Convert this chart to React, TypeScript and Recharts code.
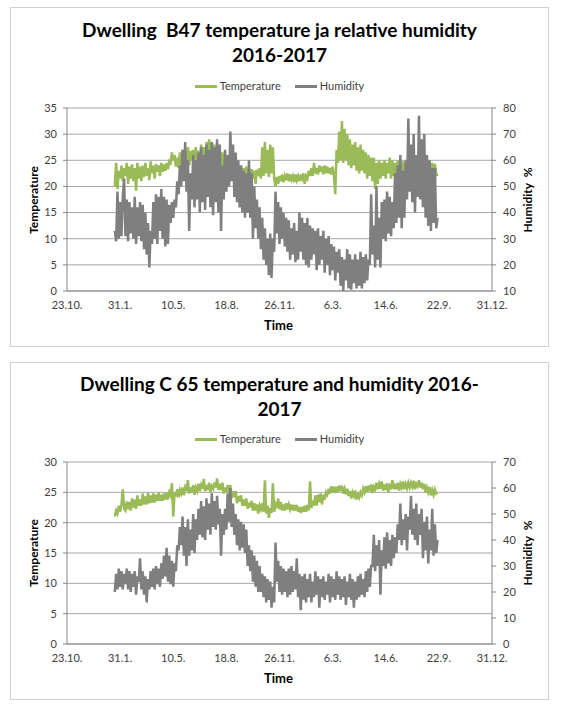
import { LineChart, Line, XAxis, YAxis, CartesianGrid } from "recharts";

// days counted from 23.10.2015, readings every 2.5 days
const days = [
  90, 92.5, 95, 97.5, 100, 102.5, 105, 107.5, 110, 112.5, 115, 117.5, 120, 122.5, 125, 127.5, 130, 132.5, 135, 137.5,
  140, 142.5, 145, 147.5, 150, 152.5, 155, 157.5, 160, 162.5, 165, 167.5, 170, 172.5, 175, 177.5, 180, 182.5, 185, 187.5,
  190, 192.5, 195, 197.5, 200, 202.5, 205, 207.5, 210, 212.5, 215, 217.5, 220, 222.5, 225, 227.5, 230, 232.5, 235, 237.5,
  240, 242.5, 245, 247.5, 250, 252.5, 255, 257.5, 260, 262.5, 265, 267.5, 270, 272.5, 275, 277.5, 280, 282.5, 285, 287.5,
  290, 292.5, 295, 297.5, 300, 302.5, 305, 307.5, 310, 312.5, 315, 317.5, 320, 322.5, 325, 327.5, 330, 332.5, 335, 337.5,
  340, 342.5, 345, 347.5, 350, 352.5, 355, 357.5, 360, 362.5, 365, 367.5, 370, 372.5, 375, 377.5, 380, 382.5, 385, 387.5,
  390, 392.5, 395, 397.5, 400, 402.5, 405, 407.5, 410, 412.5, 415, 417.5, 420, 422.5, 425, 427.5, 430, 432.5, 435, 437.5,
  440, 442.5, 445, 447.5, 450, 452.5, 455, 457.5, 460, 462.5, 465, 467.5, 470, 472.5, 475, 477.5, 480, 482.5, 485, 487.5,
  490, 492.5, 495, 497.5, 500, 502.5, 505, 507.5, 510, 512.5, 515, 517.5, 520, 522.5, 525, 527.5, 530, 532.5, 535, 537.5,
  540, 542.5, 545, 547.5, 550, 552.5, 555, 557.5, 560, 562.5, 565, 567.5, 570, 572.5, 575, 577.5, 580, 582.5, 585, 587.5,
  590, 592.5, 595, 597.5, 600, 602.5, 605, 607.5, 610, 612.5, 615, 617.5, 620, 622.5, 625, 627.5, 630, 632.5, 635, 637.5,
  640, 642.5, 645, 647.5, 650, 652.5, 655, 657.5, 660, 662.5, 665, 667.5, 670, 672.5, 675, 677.5, 680, 682.5, 685, 687.5,
  690, 692.5, 695, 697.5,
];

const dateTicks = [0, 100, 200, 300, 400, 500, 600, 700, 800];
const dateLabels = ["23.10.", "31.1.", "10.5.", "18.8.", "26.11.", "6.3.", "14.6.", "22.9.", "31.12."];

// Dwelling B47
const tempB47 = [
  20, 24.5, 19.5, 23, 21.5, 24, 21, 23.5, 22, 24.5, 20.5, 23.8, 21.5, 24.2, 21, 23.5, 19.2, 24.5, 21.5, 23.8,
  21, 24, 21.8, 24.5, 22, 23.5, 21.2, 24.8, 22.5, 24, 21.5, 24.3, 22.8, 24, 22, 24.5, 22.8, 24.2, 23, 24.5,
  23.3, 24.8, 24.5, 26.5, 25, 26, 23.8, 25.5, 23.5, 26.5, 24, 27, 24.5, 26.5, 25, 27.5, 24, 26.8, 25, 27,
  24.5, 27.5, 25, 26.8, 24, 28, 25.5, 27.5, 24.5, 28.5, 25, 29, 25.5, 28.5, 24.5, 28, 25, 27.5, 23.8, 27,
  24, 26.5, 23.5, 25.5, 22.5, 24.5, 23, 24.8, 22.3, 24, 22.8, 24.2, 22, 23.8, 22.5, 24, 21.8, 23.5, 22.3, 23.8,
  21.8, 23.5, 22, 23.3, 21.5, 23, 20.5, 23.2, 22, 23.5, 21.5, 27.5, 22, 28.5, 22.5, 27, 21.8, 28, 22.5, 27.5,
  21.5, 20, 21.8, 20.5, 22, 21, 22.3, 20.8, 22, 21.2, 22.5, 21, 22.3, 21.3, 22, 20.8, 22.3, 21.2, 22, 21,
  22.3, 21.5, 22.5, 20.5, 22, 21.5, 23, 22, 23.5, 22, 24.5, 22.5, 23.5, 22.3, 24, 22.8, 23.8, 22.3, 24, 22.5,
  23.8, 22.5, 23.5, 22.3, 23.8, 22, 18.5, 27, 24.5, 30.5, 25, 32.5, 24.5, 31, 25, 30, 24, 29, 23.5, 28,
  24, 28.5, 23, 27.5, 22.5, 28, 23, 27, 22.5, 26.5, 21.5, 26, 22, 25.5, 21, 25.5, 19.5, 24.5, 20.5, 25,
  21.5, 24.5, 22, 25, 21.5, 24.5, 22.5, 25.5, 21.5, 25, 22, 24.5, 21.8, 25, 22.5, 24.5, 21.5, 24.8, 22.3, 24,
  22.5, 25, 22, 24.5, 22.8, 25.3, 22.3, 24.5, 22.5, 25, 22, 24.8, 22.8, 25, 22.3, 24.5, 23, 24.8, 22.5, 24.5,
  23, 24.3, 22.5, 22,
];
const humB47 = [
  33, 29, 48, 30, 44, 31, 46, 53, 31, 45, 29, 44, 32, 42, 30, 46, 28, 42, 31, 44,
  29, 43, 26, 40, 24, 36, 19, 33, 28, 44, 30, 47, 28, 46, 33, 49, 30, 46, 27, 45,
  28, 43, 36, 44, 38, 45, 42, 52, 47, 58, 50, 64, 52, 67, 48, 60, 33, 55, 45, 62,
  42, 60, 45, 63, 40, 65, 44, 62, 41, 66, 46, 64, 42, 67, 39, 65, 44, 68, 40, 66,
  33, 58, 45, 64, 48, 62, 50, 71, 52, 66, 46, 63, 44, 60, 42, 58, 40, 56, 38, 55,
  40, 60, 38, 55, 30, 50, 34, 45, 30, 42, 26, 38, 22, 34, 20, 30, 16, 32, 15, 30,
  25, 48, 32, 44, 28, 42, 30, 40, 27, 38, 25, 37, 22, 34, 24, 36, 21, 33, 22, 40,
  25, 38, 22, 36, 20, 38, 19, 35, 22, 34, 24, 33, 18, 34, 20, 31, 22, 33, 17, 30,
  20, 31, 16, 28, 18, 27, 14, 25, 17, 26, 12, 23, 10, 22, 14, 26, 11, 24, 10.5, 22,
  13, 24, 11, 22, 12, 25, 11, 23, 13, 24, 14, 22, 20, 47, 24, 35, 19, 50, 22, 38,
  19, 44, 30, 45, 29, 48, 32, 46, 31, 44, 34, 55, 36, 58, 38, 62, 34, 56, 38, 60,
  45, 76, 48, 66, 44, 70, 40, 62, 46, 77, 45, 68, 42, 70, 38, 62, 35, 60, 33, 57,
  36, 57, 34, 38,
];

// Dwelling C 65
const tempC65 = [
  21, 22, 21.5, 22.8, 21.8, 23, 25.5, 22.3, 22, 23.5, 22.2, 23.4, 22, 24, 22.5, 23.8, 22.3, 24.5, 22.8, 23.8,
  22.8, 24.8, 23, 24.3, 23, 25, 23.2, 24.5, 23.3, 24.8, 23.3, 24.6, 23.6, 25, 23.6, 24.6, 23.6, 24.8, 23.8, 24.9,
  23.8, 25, 24.5, 26.5, 21, 25, 24.3, 25.5, 24.2, 25.4, 24.8, 25.8, 24.5, 25.8, 25.2, 27, 24.8, 25.8, 25, 26.2,
  24.6, 25.8, 25.2, 26.4, 25.2, 26.2, 25.6, 27.2, 25.2, 26.2, 25.4, 26.6, 25, 26, 25.6, 26.6, 25.8, 27.3, 25.4, 26.4,
  25.4, 26.6, 24.8, 25.8, 25, 26.2, 25, 26.2, 24, 25.2, 24.2, 25.2, 23.2, 24.4, 23.5, 24.5, 22.8, 23.8, 22.8, 24,
  22.3, 23.3, 22.5, 23.6, 22, 23.2, 22, 23, 21.5, 22.8, 22.2, 23.2, 21.8, 27, 21.5, 22.8, 20.8, 22.4, 21.6, 26.5,
  21.8, 23, 22.4, 24, 22.2, 23.4, 22, 23, 22, 23.2, 22.2, 23, 22.2, 23, 22, 22.9, 22, 22.9, 21.8, 22.6,
  21.6, 22.6, 21.8, 22.8, 21.8, 22.9, 22, 26.8, 22.4, 23.6, 22.8, 24.5, 22.8, 24.6, 23.4, 24.8, 23, 24.6, 23.8, 25,
  24.6, 25.6, 24.8, 26, 25, 25.9, 24.9, 25.9, 25.1, 26.1, 25.2, 26.1, 24.8, 25.6, 24.7, 25.6, 24.4, 25.2, 24, 25,
  24.4, 25.3, 23.8, 24.9, 24.2, 25, 24.5, 25.6, 25, 26, 25, 26.1, 25.2, 26.3, 24.9, 25.9, 25.5, 26.6, 25.5, 26.4,
  25.6, 26.8, 25.3, 26.3, 25.4, 26.5, 25, 26.1, 25.8, 27, 25.5, 26.4, 25.5, 26.6, 25.3, 26.4, 25.8, 26.8, 25.5, 26.4,
  25.7, 26.6, 25.8, 26.6, 25.9, 26.9, 25.5, 26.4, 26, 27, 25.8, 26.6, 25.5, 26.4, 24.9, 25.8, 25, 25.9, 24.5, 25.4,
  24.6, 25.5, 24.8, 25,
];
const humC65 = [
  20, 27, 21, 29, 22, 28, 21, 27, 23, 29, 21, 28, 20, 27, 22, 28, 19, 26, 24, 33,
  21, 28, 19, 26, 16, 25, 21, 28, 22, 29, 21, 30, 23, 29, 22, 31, 25, 34, 26, 37,
  24, 34, 23, 32, 22, 31, 28, 38, 36, 45, 38, 49, 34, 45, 30, 48, 34, 44, 36, 50,
  35, 48, 40, 52, 42, 55, 41, 53, 40, 56, 44, 54, 42, 58, 45, 55, 44, 57, 46, 52,
  34, 50, 42, 52, 44, 58, 47, 60, 45, 54, 42, 50, 38, 48, 36, 47, 37, 46, 35, 44,
  30, 38, 28, 36, 24, 34, 22, 32, 20, 30, 20, 27, 18, 26, 16, 25, 17, 24, 14, 22,
  16, 39, 24, 32, 20, 30, 19, 29, 20, 28, 18, 29, 19, 30, 20, 28, 21, 33, 18, 27,
  13, 26, 17, 27, 16, 25, 18, 27, 16, 24, 18, 28, 19, 26, 14, 25, 18, 26, 17, 24,
  19, 27, 16, 26, 18, 25, 17, 28, 19, 26, 17, 25, 18, 26, 15, 24, 18, 27, 17, 25,
  14, 24, 17, 26, 18, 27, 19, 25, 18, 28, 20, 29, 22, 30, 30, 42, 28, 38, 30, 40,
  19, 36, 30, 41, 29, 43, 31, 40, 30, 42, 33, 41, 35, 46, 40, 54, 38, 48, 40, 50,
  36, 49, 44, 57, 42, 52, 40, 54, 38, 50, 42, 52, 33, 47, 36, 49, 31, 44, 36, 52,
  34, 46, 35, 40,
];

const GREEN = "#9bbb59";
const GRAY = "#7f7f7f";
const TEXT = "#404040";

type PanelProps = {
  top: number;
  height: number;
  titleLines: string[];
  titleTop: number;
  legendTop: number;
  plotTop: number;
  temp: number[];
  hum: number[];
  leftTicks: number[];
  rightTicks: number[];
};

function Panel({ top, height, titleLines, titleTop, legendTop, plotTop, temp, hum, leftTicks, rightTicks }: PanelProps) {
  const w = 537;
  const h = height - 2;
  const plotBottom = h - 55;
  const data = days.map((d, i) => ({ day: d, temp: temp[i], hum: hum[i] }));
  const midY = (plotTop + plotBottom) / 2;

  return (
    <div
      style={{
        position: "absolute",
        left: 10,
        top,
        width: w,
        height: h,
        border: "1px solid #d0d0d0",
        background: "#fff",
        fontFamily: "Lato, 'Open Sans', sans-serif",
        color: TEXT,
      }}
    >
      {titleLines.map((t, i) => (
        <div
          key={i}
          style={{
            position: "absolute",
            left: 0,
            width: w,
            top: titleTop + i * 25,
            textAlign: "center",
            fontWeight: 700,
            fontSize: 19,
            lineHeight: "24px",
            color: "#000",
            whiteSpace: "pre",
          }}
        >
          {t}
        </div>
      ))}

      <div
        style={{
          position: "absolute",
          left: 0,
          width: w,
          top: legendTop,
          display: "flex",
          justifyContent: "center",
          alignItems: "center",
          fontSize: 11,
          lineHeight: "14px",
        }}
      >
        <span style={{ display: "inline-block", width: 22, height: 3, background: GREEN, marginRight: 3 }} />
        <span style={{ marginRight: 14 }}>Temperature</span>
        <span style={{ display: "inline-block", width: 22, height: 3, background: GRAY, marginRight: 3 }} />
        <span>Humidity</span>
      </div>

      <div
        style={{
          position: "absolute",
          left: 22,
          top: midY,
          transform: "translate(-50%, -50%) rotate(-90deg)",
          fontWeight: 700,
          fontSize: 12,
          color: "#000",
          whiteSpace: "nowrap",
        }}
      >
        Temperature
      </div>
      <div
        style={{
          position: "absolute",
          left: 516,
          top: midY,
          transform: "translate(-50%, -50%) rotate(-90deg)",
          fontWeight: 700,
          fontSize: 12,
          color: "#000",
          whiteSpace: "pre",
        }}
      >
        {"Humidity  %"}
      </div>
      <div
        style={{
          position: "absolute",
          left: 0,
          width: w - 2,
          top: plotBottom + 26,
          textAlign: "center",
          fontWeight: 700,
          fontSize: 13,
          color: "#000",
        }}
      >
        Time
      </div>

      <LineChart
        width={w}
        height={h}
        data={data}
        margin={{ top: plotTop, right: 16, bottom: 25, left: 16 }}
        style={{ position: "absolute", left: 0, top: 0 }}
      >
        <CartesianGrid vertical={false} stroke="#a6a6a6" yAxisId="left" />
        <XAxis
          dataKey="day"
          type="number"
          domain={[0, 800]}
          ticks={dateTicks}
          tickFormatter={(v: number) => dateLabels[dateTicks.indexOf(v)]}
          tickLine={false}
          tickSize={4}
          tickMargin={6}
          height={30}
          stroke="#868686"
          tick={{ fill: TEXT, fontSize: 11 }}
          interval={0}
        />
        <YAxis
          yAxisId="left"
          domain={[leftTicks[0], leftTicks[leftTicks.length - 1]]}
          ticks={leftTicks}
          width={40}
          tickSize={4}
          tickMargin={6}
          stroke="#868686"
          tick={{ fill: TEXT, fontSize: 11 }}
          interval={0}
        />
        <YAxis
          yAxisId="right"
          orientation="right"
          domain={[rightTicks[0], rightTicks[rightTicks.length - 1]]}
          ticks={rightTicks}
          width={40}
          tickSize={4}
          tickMargin={7}
          stroke="#868686"
          tick={{ fill: TEXT, fontSize: 11 }}
          interval={0}
        />
        <Line
          yAxisId="left"
          dataKey="temp"
          name="Temperature"
          stroke={GREEN}
          strokeWidth={2.5}
          dot={false}
          isAnimationActive={false}
        />
        <Line
          yAxisId="right"
          dataKey="hum"
          name="Humidity"
          stroke={GRAY}
          strokeWidth={2.5}
          dot={false}
          isAnimationActive={false}
        />
      </LineChart>
    </div>
  );
}

export default function App() {
  return (
    <div style={{ position: "absolute", left: 0, top: 0, width: 567, height: 706, background: "#fff" }}>
      <Panel
        top={7}
        height={340}
        titleLines={["Dwelling  B47 temperature ja relative humidity", "2016-2017"]}
        titleTop={10}
        legendTop={71}
        plotTop={100}
        temp={tempB47}
        hum={humB47}
        leftTicks={[0, 5, 10, 15, 20, 25, 30, 35]}
        rightTicks={[10, 20, 30, 40, 50, 60, 70, 80]}
      />
      <Panel
        top={362}
        height={338}
        titleLines={["Dwelling C 65 temperature and humidity 2016-", "2017"]}
        titleTop={9}
        legendTop={69}
        plotTop={99}
        temp={tempC65}
        hum={humC65}
        leftTicks={[0, 5, 10, 15, 20, 25, 30]}
        rightTicks={[0, 10, 20, 30, 40, 50, 60, 70]}
      />
    </div>
  );
}
